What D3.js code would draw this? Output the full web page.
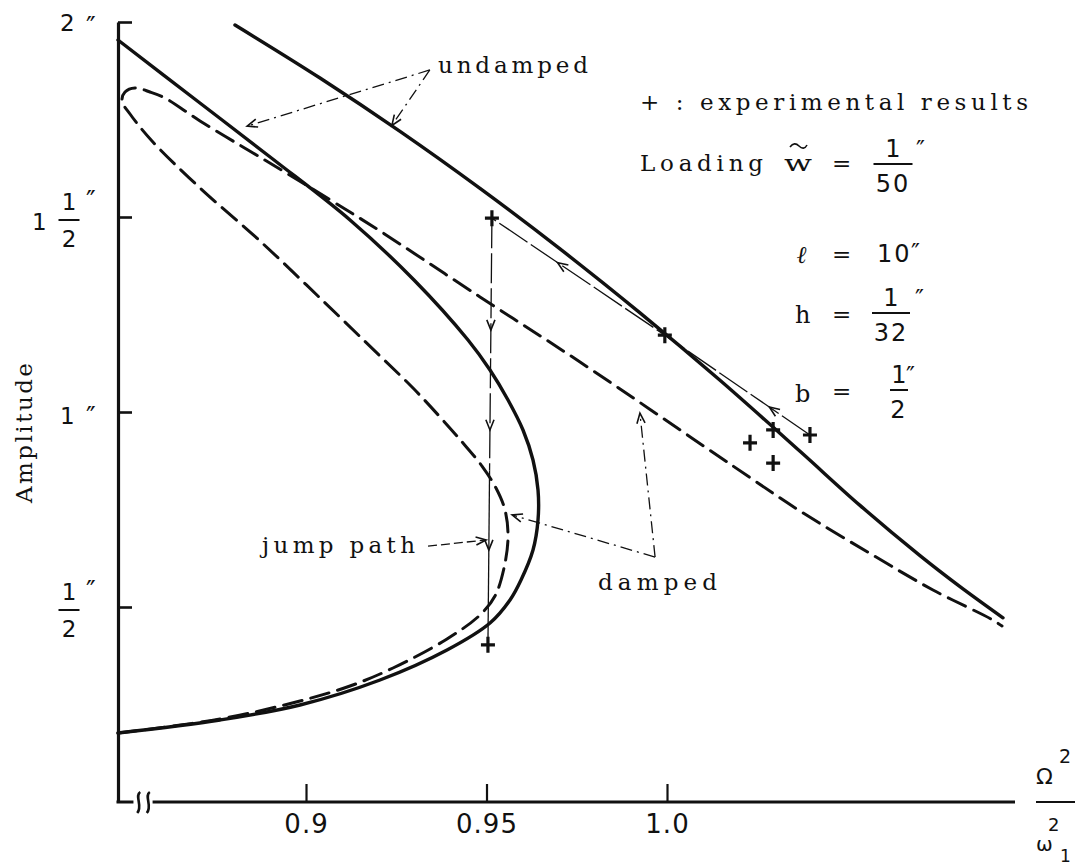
<!DOCTYPE html>
<html>
<head>
<meta charset="utf-8">
<script src="https://cdn.jsdelivr.net/npm/d3@7"></script>
<style>
  body { margin: 0; background: #fff; }
  svg { display: block; }
</style>
</head>
<body>
<svg id="chart" width="1075" height="865"></svg>
<script>
// Frequency ratio (Omega^2 / omega_1^2) and amplitude (inches)

// undamped response, upper (right-hand) branch
const undampedUpperX = [0.88033, 0.90388, 0.92604, 0.94820, 0.97036, 0.99252, 1.01468, 1.03684, 1.05346, 1.07008, 1.08116, 1.09307];
const undampedUpperY = [1.99231, 1.85641, 1.71949, 1.57333, 1.41821, 1.25410, 1.08128, 0.89923, 0.76051, 0.63179, 0.55231, 0.47231];

// undamped response, left-hand branch folding back to the lower branch
const undampedLowerX = [0.84792, 0.86953, 0.89114, 0.91219, 0.92992, 0.94488, 0.95097, 0.95596, 0.96011, 0.96288, 0.96427,
  0.96427, 0.96288, 0.95956, 0.95651, 0.95097, 0.93906, 0.92050, 0.89834, 0.87618, 0.84792];
const undampedLowerY = [1.95385, 1.80000, 1.64615, 1.49231, 1.33846, 1.18462, 1.10769, 1.03077, 0.95385, 0.87692, 0.80000,
  0.72308, 0.64615, 0.56923, 0.51795, 0.45897, 0.38974, 0.31282, 0.24872, 0.21026, 0.17692];

// damped response: lower branch, nose, middle branch, peak loop, upper branch
const dampedX = [0.84792, 0.87618, 0.89834, 0.91219, 0.92410, 0.93906, 0.94820, 0.95235, 0.95485, 0.95596,
  0.95512, 0.95263, 0.94875, 0.94349, 0.93712, 0.92964, 0.92050, 0.90388, 0.88726, 0.87064,
  0.85734, 0.85125, 0.84903, 0.84986, 0.85263, 0.85679, 0.86094, 0.87064, 0.88532, 0.89363,
  0.91080, 0.92050, 0.94820, 0.97590, 1.01828, 1.03684, 1.05651, 1.07368, 1.08975, 1.09280];
const dampedY = [0.1769, 0.2128, 0.2590, 0.2974, 0.3436, 0.4180, 0.4795, 0.5282, 0.6000, 0.6795,
  0.7487, 0.8051, 0.8615, 0.9205, 0.9872, 1.0615, 1.1436, 1.2923, 1.4385, 1.5744,
  1.6949, 1.7641, 1.7974, 1.8205, 1.8308, 1.8205, 1.8051, 1.7462, 1.6641, 1.6180,
  1.5205, 1.4641, 1.2949, 1.1282, 0.8615, 0.7462, 0.6359, 0.5436, 0.4692, 0.4513];

// experimental results
const expX = [0.9515, 0.9994, 1.0396, 1.0230, 1.0294, 1.0294, 0.9504];
const expY = [1.497, 1.197, 0.941, 0.921, 0.954, 0.869, 0.403];

// measured sweep path (decreasing frequency) and the jump
const sweepX = [1.0396, 0.9994, 0.9515];
const sweepY = [0.941, 1.197, 1.497];
const jumpX = [0.9515, 0.9504];
const jumpY = [1.497, 0.403];
const jumpArrowY = [1.21, 0.954, 0.646];

// axis ticks
const xTicks = [0.9, 0.95, 1.0];
const xTickLabels = ["0.9", "0.95", "1.0"];
const yTicks = [0.5, 1, 1.5, 2];

// annotation anchors (data units)
const undampedVertex = [0.9343, 1.877];
const undampedTips = [[0.9238, 1.735], [0.8837, 1.733]];
const dampedVertex = [0.9967, 0.628];
const dampedTips = [[0.9925, 0.997], [0.9571, 0.736]];
const jumpLabelLine = [[0.9338, 0.656], [0.9499, 0.672]];
const xBreak = [0.8522, 0.8575];

const ink = "#111";
const x = d3.scaleLinear().domain([0.84792, 1.0964]).range([118, 1015]);
const y = d3.scaleLinear().domain([0, 2]).range([802, 22]);

const svg = d3.select("#chart");
const zip = (a, b) => a.map((v, i) => [v, b[i]]);
const curve = d3.line().x(d => x(d[0])).y(d => y(d[1])).curve(d3.curveCatmullRom.alpha(0.5));
const straight = d3.line().x(d => x(d[0])).y(d => y(d[1]));

// ---- axes ----
const yAxis = svg.append("g").attr("transform", `translate(${x(x.domain()[0])},0)`)
  .call(d3.axisLeft(y).tickValues(yTicks).tickSizeInner(-14).tickSizeOuter(0).tickFormat(""));
yAxis.select(".domain").attr("stroke", ink).attr("stroke-width", 3.2);
yAxis.selectAll(".tick line").attr("stroke", ink).attr("stroke-width", 2.6);

const xAxis = svg.append("g").attr("transform", `translate(0,${y(0)})`)
  .call(d3.axisBottom(x).tickValues(xTicks).tickSizeInner(-18).tickSizeOuter(0).tickPadding(13)
    .tickFormat((d, i) => xTickLabels[i]));
xAxis.select(".domain").remove();
xAxis.selectAll(".tick line").attr("stroke", ink).attr("stroke-width", 2.2);
xAxis.selectAll(".tick text").attr("fill", ink)
  .attr("font-family", "DejaVu Sans").attr("font-size", 26).attr("letter-spacing", 1);

// x axis line, interrupted by the break mark
const axisG = svg.append("g").attr("stroke", ink).attr("stroke-width", 3).attr("fill", "none");
axisG.append("line").attr("x1", x(x.domain()[0]) - 1.5).attr("x2", x(xBreak[0])).attr("y1", y(0)).attr("y2", y(0));
axisG.append("line").attr("x1", x(xBreak[1])).attr("x2", x(x.domain()[1])).attr("y1", y(0)).attr("y2", y(0));
xBreak.forEach((b, i) => {
  const cx = x(xBreak[0]) + (i + 0.5) * (x(xBreak[1]) - x(xBreak[0])) / 2;
  const cy = y(0);
  const p = d3.path();
  p.moveTo(cx + 2, cy - 10);
  p.bezierCurveTo(cx - 4, cy - 6, cx + 5, cy + 4, cx - 1, cy + 11);
  axisG.append("path").attr("d", p.toString()).attr("stroke-width", 2.6);
});

// y tick labels with fractions and inch marks
const num = (sel, size = 23) => sel.attr("font-family", "DejaVu Sans").attr("font-size", size).attr("fill", ink);
const lab = svg.append("g");
function inch(px, py) {
  lab.append("text").attr("x", px).attr("y", py).text("\u2033").call(num, 26);
}
function frac(cx, cyBar, n, d, barW) {
  lab.append("text").attr("x", cx).attr("y", cyBar - 10).attr("text-anchor", "middle").text(n).call(num);
  lab.append("line").attr("x1", cx - barW / 2).attr("x2", cx + barW / 2).attr("y1", cyBar).attr("y2", cyBar)
    .attr("stroke", ink).attr("stroke-width", 2);
  lab.append("text").attr("x", cx).attr("y", cyBar + 27).attr("text-anchor", "middle").text(d).call(num);
}
lab.append("text").attr("x", 60).attr("y", y(2) + 9).text("2").call(num);
inch(86, y(2) + 14);
lab.append("text").attr("x", 32).attr("y", y(1.5) + 13).text("1").call(num);
frac(69, y(1.5) + 3, "1", "2", 21);
inch(86, y(1.5) - 7);
lab.append("text").attr("x", 60).attr("y", y(1) + 12).text("1").call(num);
inch(86, y(1) + 14);
frac(69, y(0.5) + 3, "1", "2", 21);
inch(86, y(0.5) - 7);

// axis titles
svg.append("text").attr("transform", `translate(32,433) rotate(-90)`).attr("text-anchor", "middle")
  .attr("font-family", "DejaVu Serif").attr("font-size", 23).attr("fill", ink)
  .attr("textLength", 140).attr("lengthAdjust", "spacing").text("Amplitude");

const ttl = svg.append("g").attr("font-family", "DejaVu Sans").attr("fill", ink);
ttl.append("text").attr("x", 1036).attr("y", 784).attr("font-size", 22).text("\u03A9");
ttl.append("text").attr("x", 1059).attr("y", 763).attr("font-size", 19).text("2");
ttl.append("line").attr("x1", 1036).attr("x2", 1075).attr("y1", y(0)).attr("y2", y(0)).attr("stroke", ink).attr("stroke-width", 2);
ttl.append("text").attr("x", 1036).attr("y", 851).attr("font-size", 20).text("\u03C9");
ttl.append("text").attr("x", 1048).attr("y", 831).attr("font-size", 18).text("2");
ttl.append("text").attr("x", 1060).attr("y", 862).attr("font-size", 17).text("1");

// ---- response curves ----
svg.append("path").attr("d", curve(zip(undampedUpperX, undampedUpperY)))
  .attr("fill", "none").attr("stroke", ink).attr("stroke-width", 3.4).attr("stroke-linecap", "round");
svg.append("path").attr("d", curve(zip(undampedLowerX, undampedLowerY)))
  .attr("fill", "none").attr("stroke", ink).attr("stroke-width", 3.4).attr("stroke-linecap", "round");
svg.append("path").attr("d", curve(zip(dampedX, dampedY)))
  .attr("fill", "none").attr("stroke", ink).attr("stroke-width", 3).attr("stroke-dasharray", "19,9")
  .attr("stroke-linecap", "round");

// ---- arrows and pointer lines ----
const ann = svg.append("g").attr("fill", "none").attr("stroke", ink).attr("stroke-width", 1.3);
function chevron(tx, ty, ang, len = 11, spread = 0.38) {
  // open arrow head with its tip at (tx,ty), pointing along angle ang
  const p = d3.path();
  p.moveTo(tx - len * Math.cos(ang - spread), ty - len * Math.sin(ang - spread));
  p.lineTo(tx, ty);
  p.lineTo(tx - len * Math.cos(ang + spread), ty - len * Math.sin(ang + spread));
  ann.append("path").attr("d", p.toString()).attr("stroke-width", 1.6);
}
function pointer(from, to, dash) {
  ann.append("path").attr("d", straight([from, to])).attr("stroke-dasharray", dash);
  const ang = Math.atan2(y(to[1]) - y(from[1]), x(to[0]) - x(from[0]));
  chevron(x(to[0]), y(to[1]), ang);
}
undampedTips.forEach(t => pointer(undampedVertex, t, "12,5,2,5"));
dampedTips.forEach(t => pointer(dampedVertex, t, "12,5,2,5"));
pointer(jumpLabelLine[0], jumpLabelLine[1], "9,4");

// sweep path between the measured points
const sweep = zip(sweepX, sweepY);
ann.append("path").attr("d", straight(sweep)).attr("stroke-dasharray", "34,4");
[[0, 0.28], [1, 0.62]].forEach(([k, t]) => {
  const a = sweep[k], b = sweep[k + 1];
  const px = x(a[0]) + t * (x(b[0]) - x(a[0]));
  const py = y(a[1]) + t * (y(b[1]) - y(a[1]));
  chevron(px, py, Math.atan2(y(b[1]) - y(a[1]), x(b[0]) - x(a[0])));
});

// jump path
const jumpAt = v => jumpX[0] + (jumpX[1] - jumpX[0]) * (v - jumpY[0]) / (jumpY[1] - jumpY[0]);
const jumpMid = 0.85;
ann.append("path").attr("d", straight([[jumpX[0], jumpY[0]], [jumpAt(jumpMid), jumpMid]])).attr("stroke-dasharray", "30,5");
ann.append("path").attr("d", straight([[jumpAt(jumpMid), jumpMid], [jumpX[1], jumpY[1]]]));
jumpArrowY.forEach(v => chevron(x(jumpAt(v)), y(v), Math.PI / 2));

// experimental points
svg.append("g").selectAll("path").data(zip(expX, expY)).join("path")
  .attr("d", d => `M${x(d[0]) - 7},${y(d[1])}h14M${x(d[0])},${y(d[1]) - 8}v16`)
  .attr("stroke", ink).attr("stroke-width", 3.2).attr("fill", "none");

// ---- text annotations ----
const serif = (sel, size = 23) => sel.attr("font-family", "DejaVu Serif").attr("font-size", size).attr("fill", ink);
svg.append("text").attr("x", 438).attr("y", 73).text("undamped").call(serif)
  .attr("textLength", 150).attr("lengthAdjust", "spacing");
svg.append("text").attr("x", 598).attr("y", 590).text("damped").call(serif)
  .attr("textLength", 119).attr("lengthAdjust", "spacing");
svg.append("text").attr("x", 262).attr("y", 553).text("jump path").call(serif)
  .attr("textLength", 153).attr("lengthAdjust", "spacing");

// parameter block
const lg = svg.append("g");
lg.append("text").attr("x", 640).attr("y", 110).text("+ : experimental results").call(serif)
  .attr("textLength", 388).attr("lengthAdjust", "spacing");
lg.append("text").attr("x", 640).attr("y", 171).text("Loading").call(serif)
  .attr("textLength", 123).attr("lengthAdjust", "spacing");
lg.append("text").attr("x", 784).attr("y", 171).text("w").call(serif)
  .attr("textLength", 28).attr("lengthAdjust", "spacingAndGlyphs");
lg.append("path").attr("d", "M790,147c3,-4 6,-4 9,-1s6,3 8,-1").attr("fill", "none").attr("stroke", ink).attr("stroke-width", 1.6);
const eq = (cy) => lg.append("text").attr("x", 832).attr("y", cy + 7).text("=").call(serif);
eq(164); eq(255); eq(315); eq(392);
function lfrac(cx, cyBar, n, d, barW, inchX) {
  lg.append("text").attr("x", cx).attr("y", cyBar - 7).attr("text-anchor", "middle").text(n).call(num, 24);
  lg.append("line").attr("x1", cx - barW / 2).attr("x2", cx + barW / 2).attr("y1", cyBar).attr("y2", cyBar)
    .attr("stroke", ink).attr("stroke-width", 2);
  lg.append("text").attr("x", cx).attr("y", cyBar + 28).attr("text-anchor", "middle").text(d).call(num, 24)
    .attr("letter-spacing", 2);
  lg.append("text").attr("x", inchX).attr("y", cyBar - 6).text("\u2033").call(num, 24);
}
lfrac(893, 164, "1", "50", 39, 916);
lg.append("text").attr("x", 797).attr("y", 263).text("\u2113").call(serif, 24).attr("font-style", "italic").attr("font-weight", "bold");
lg.append("text").attr("x", 877).attr("y", 262).text("10").call(num, 24).attr("letter-spacing", 2);
lg.append("text").attr("x", 911).attr("y", 261).text("\u2033").call(num, 24);
lg.append("text").attr("x", 795).attr("y", 323).text("h").call(serif, 24);
lfrac(891, 313, "1", "32", 38, 915);
lg.append("text").attr("x", 795).attr("y", 402).text("b").call(serif, 24);
lfrac(899, 390, "1", "2", 18, 906);
</script>
</body>
</html>
